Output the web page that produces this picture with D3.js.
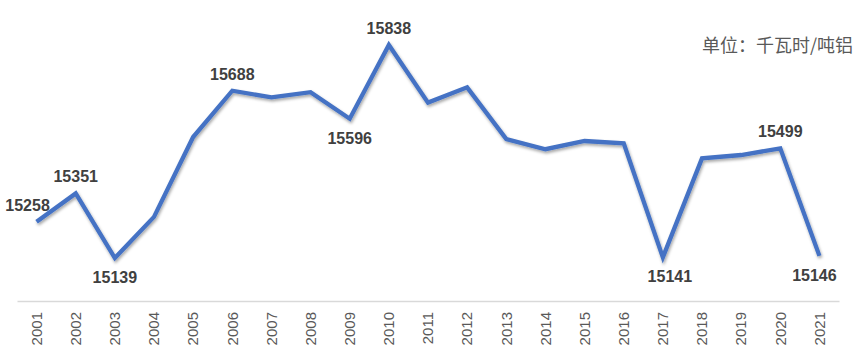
<!DOCTYPE html>
<html><head><meta charset="utf-8">
<script src="https://cdn.jsdelivr.net/npm/d3@7"></script>
<style>body{margin:0;background:#fff}</style>
</head><body>
<svg id="c" width="857" height="358"></svg>
<script>
const years = ["2001","2002","2003","2004","2005","2006","2007","2008","2009","2010","2011","2012","2013","2014","2015","2016","2017","2018","2019","2020","2021"];
const values = [15258,15351,15139,15274,15536,15688,15666,15683,15596,15838,15649,15699,15529,15496,15523,15515,15141,15466,15477,15499,15146];
// labelled points: year, position (above/below)
const labelYears = ["2001","2002","2003","2006","2009","2010","2017","2020","2021"];
const labelPos = ["above","above","below","above","below","above","below","above","below"];
const unitText = "单位：千瓦时/吨铝";

const svg = d3.select("#c");
const x = d3.scaleBand().domain(years).range([17, 839]);
const y = d3.scaleLinear().domain([15139, 15838]).range([258, 45]);
const cx = d => x(d) + x.bandwidth()/2;

const defs = svg.append("defs");
const f = defs.append("filter").attr("id","sh").attr("x","-10%").attr("y","-10%").attr("width","120%").attr("height","130%");
f.append("feDropShadow").attr("dx",1).attr("dy",2).attr("stdDeviation",1.5).attr("flood-color","#000").attr("flood-opacity",0.35);

// axis
const ax = svg.append("g").attr("transform","translate(0,301)")
  .call(d3.axisBottom(x).tickSize(0).tickPadding(0));
ax.select(".domain").attr("stroke","#d9d9d9").attr("stroke-width",1.3);
ax.selectAll("text")
  .attr("transform","rotate(-90)")
  .attr("text-anchor","end")
  .attr("x",-11).attr("y",0).attr("dy","0.35em")
  .attr("font-family","Liberation Sans, Arial, sans-serif")
  .attr("font-size",15).attr("fill","#595959");

const data = years.map((yr,i)=>({yr, v: values[i]}));
svg.append("path").datum(data)
  .attr("d", d3.line().x(d=>cx(d.yr)).y(d=>y(d.v)))
  .attr("fill","none").attr("stroke","#4472C4").attr("stroke-width",4.3)
  .attr("stroke-linejoin","miter").attr("filter","url(#sh)");

const labelShift = {"2001":-9,"2017":7,"2021":-5};
labelYears.forEach((yr,i)=>{
  const v = values[years.indexOf(yr)];
  const above = labelPos[i]==="above";
  svg.append("text")
    .attr("x", cx(yr) + (labelShift[yr]||0))
    .attr("y", y(v) + (above ? -11 : 25))
    .attr("text-anchor","middle")
    .attr("font-family","Liberation Sans, Arial, sans-serif")
    .attr("font-weight","bold").attr("font-size",16).attr("fill","#404040")
    .text(v);
});

svg.append("text").attr("x",853).attr("y",52).attr("text-anchor","end")
  .attr("font-family","Noto Sans CJK SC, sans-serif").attr("font-size",18)
  .attr("fill","#595959").text(unitText);
</script>
</body></html>
